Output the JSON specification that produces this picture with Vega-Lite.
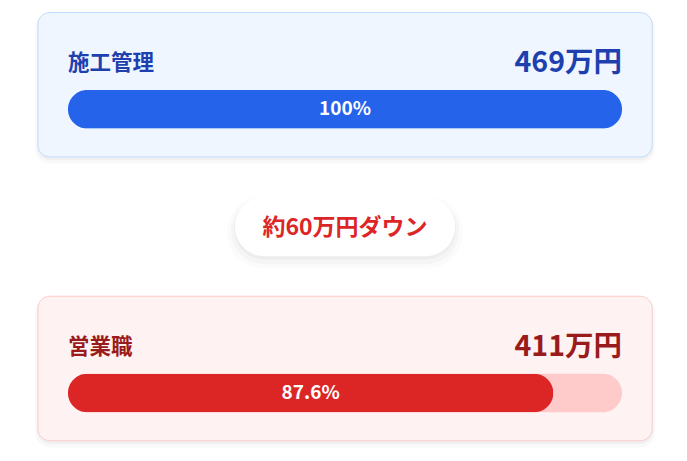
{
  "$schema": "https://vega.github.io/schema/vega-lite/v6.json",
  "width": 687,
  "height": 461,
  "padding": 0,
  "autosize": {"type": "fit", "contains": "padding"},
  "background": "#ffffff",
  "config": {
    "view": {"stroke": null},
    "font": "Noto Sans CJK JP",
    "text": {"font": "Noto Sans CJK JP", "fontWeight": "bold", "baseline": "middle"}
  },
  "datasets": {
    "jobs": [
      {"job": "施工管理", "salary": 469, "share": 1.0},
      {"job": "営業職", "salary": 411, "share": 0.876}
    ],
    "gap": [
      {"job": "差", "label": "約60万円ダウン"}
    ]
  },
  "encoding": {
    "y": {
      "field": "job",
      "type": "nominal",
      "scale": {"type": "point", "domain": ["施工管理", "差", "営業職"], "range": [84.75, 368.5], "padding": 0},
      "axis": null
    }
  },
  "layer": [
    {
      "data": {"name": "jobs"},
      "mark": {"type": "bar", "size": 150, "cornerRadius": 15, "yOffset": 4, "xOffset": -3, "x2Offset": 3, "fill": "#000000", "opacity": 0.025},
      "encoding": {
        "x": {"datum": -0.0542, "type": "quantitative", "scale": {"domain": [0, 1], "range": [68, 622]}, "axis": null},
        "x2": {"datum": 1.0545}
      }
    },
    {
      "data": {"name": "jobs"},
      "mark": {"type": "bar", "size": 146, "cornerRadius": 13, "yOffset": 2.5, "xOffset": -1, "x2Offset": 1, "fill": "#000000", "opacity": 0.035},
      "encoding": {
        "x": {"datum": -0.0542, "type": "quantitative"},
        "x2": {"datum": 1.0545}
      }
    },
    {
      "data": {"name": "jobs"},
      "mark": {"type": "bar", "size": 144.5, "cornerRadius": 12, "strokeWidth": 1},
      "encoding": {
        "x": {"datum": -0.0542, "type": "quantitative"},
        "x2": {"datum": 1.0545},
        "fill": {"condition": {"test": "datum.job === '施工管理'", "value": "#eff6ff"}, "value": "#fef2f2"},
        "stroke": {"condition": {"test": "datum.job === '施工管理'", "value": "#bfdbfe"}, "value": "#fecaca"}
      }
    },
    {
      "data": {"name": "jobs"},
      "mark": {"type": "bar", "size": 38.5, "cornerRadius": 19.25, "yOffset": 24.5},
      "encoding": {
        "x": {"datum": 0, "type": "quantitative"},
        "x2": {"datum": 1},
        "fill": {"condition": {"test": "datum.job === '施工管理'", "value": "#bfdbfe"}, "value": "#fecaca"}
      }
    },
    {
      "data": {"name": "jobs"},
      "mark": {"type": "bar", "size": 38.5, "cornerRadius": 19.25, "yOffset": 24.5},
      "encoding": {
        "x": {"field": "share", "type": "quantitative"},
        "fill": {"condition": {"test": "datum.job === '施工管理'", "value": "#2563eb"}, "value": "#dc2626"}
      }
    },
    {
      "data": {"name": "jobs"},
      "transform": [{"calculate": "datum.share / 2", "as": "mid"}],
      "mark": {"type": "text", "fontSize": 19, "dy": 24.5, "align": "center", "fill": "#ffffff"},
      "encoding": {
        "x": {"field": "mid", "type": "quantitative"},
        "text": {"field": "share", "type": "quantitative", "format": ".3~%"}
      }
    },
    {
      "data": {"name": "jobs"},
      "mark": {"type": "text", "fontSize": 21.5, "dy": -20.5, "align": "left"},
      "encoding": {
        "x": {"datum": 0, "type": "quantitative"},
        "text": {"field": "job"},
        "fill": {"condition": {"test": "datum.job === '施工管理'", "value": "#1e40af"}, "value": "#991b1b"}
      }
    },
    {
      "data": {"name": "jobs"},
      "transform": [{"calculate": "datum.salary + '万円'", "as": "salaryLabel"}],
      "mark": {"type": "text", "fontSize": 28.5, "dy": -21.5, "align": "right"},
      "encoding": {
        "x": {"datum": 1, "type": "quantitative"},
        "text": {"field": "salaryLabel"},
        "fill": {"condition": {"test": "datum.job === '施工管理'", "value": "#1e40af"}, "value": "#991b1b"}
      }
    },
    {
      "data": {"name": "gap"},
      "mark": {"type": "bar", "size": 72, "cornerRadius": 36, "yOffset": 6, "xOffset": -8, "x2Offset": 8, "fill": "#000000", "opacity": 0.015},
      "encoding": {
        "x": {"datum": 0.3014, "type": "quantitative"},
        "x2": {"datum": 0.6986}
      }
    },
    {
      "data": {"name": "gap"},
      "mark": {"type": "bar", "size": 66, "cornerRadius": 33, "yOffset": 4.5, "xOffset": -4, "x2Offset": 4, "fill": "#000000", "opacity": 0.025},
      "encoding": {
        "x": {"datum": 0.3014, "type": "quantitative"},
        "x2": {"datum": 0.6986}
      }
    },
    {
      "data": {"name": "gap"},
      "mark": {"type": "bar", "size": 61, "cornerRadius": 30.5, "yOffset": 2.5, "xOffset": -1, "x2Offset": 1, "fill": "#000000", "opacity": 0.03},
      "encoding": {
        "x": {"datum": 0.3014, "type": "quantitative"},
        "x2": {"datum": 0.6986}
      }
    },
    {
      "data": {"name": "gap"},
      "mark": {"type": "bar", "size": 59, "cornerRadius": 29.5, "fill": "#ffffff"},
      "encoding": {
        "x": {"datum": 0.3014, "type": "quantitative"},
        "x2": {"datum": 0.6986}
      }
    },
    {
      "data": {"name": "gap"},
      "mark": {"type": "text", "fontSize": 23, "dy": 1, "align": "center", "fill": "#dc2626"},
      "encoding": {
        "x": {"datum": 0.5, "type": "quantitative"},
        "text": {"field": "label"}
      }
    }
  ]
}
